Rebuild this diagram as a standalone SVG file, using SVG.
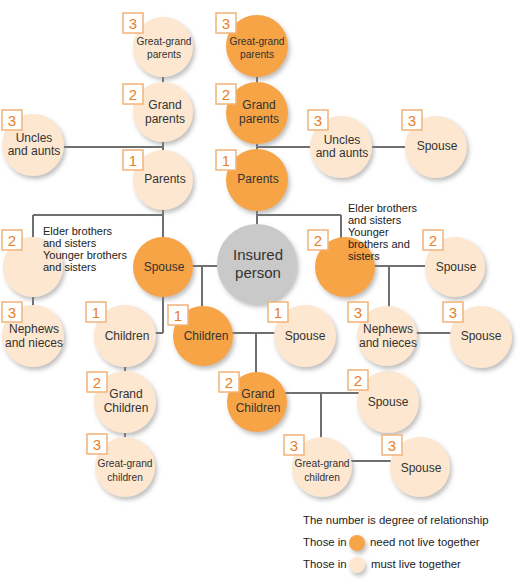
<svg xmlns="http://www.w3.org/2000/svg" width="518" height="587" viewBox="0 0 518 587">
<defs>
<filter id="sh" x="-30%" y="-30%" width="170%" height="170%">
<feDropShadow dx="2" dy="3" stdDeviation="2" flood-color="#8a8a8a" flood-opacity="0.55"/>
</filter>
</defs>
<style>
.o{fill:#F6A445;filter:url(#sh)}
.l{fill:#FDE7D0;filter:url(#sh)}
.g{fill:#C9C9C9;filter:url(#sh)}
.b{fill:#fff;stroke:#F2B37A;stroke-width:1.5}
.d{font-family:"Liberation Sans",Arial,sans-serif;font-size:15px;fill:#E8802A;text-anchor:middle}
.t{font-family:"Liberation Sans",Arial,sans-serif;font-size:12px;fill:#333;text-anchor:middle}
.s{font-family:"Liberation Sans",Arial,sans-serif;font-size:10.2px;fill:#333;text-anchor:middle}
.x{font-family:"Liberation Sans",Arial,sans-serif;font-size:11px;fill:#222}
.lg{font-family:"Liberation Sans",Arial,sans-serif;font-size:11.4px;fill:#222}
.c line{stroke:#6f6f6f;stroke-width:2}
</style>
<rect width="518" height="587" fill="#fff"/>
<g class="c" id="connectors">
<line x1="163" y1="47" x2="163" y2="333"/>
<line x1="32" y1="147" x2="163" y2="147"/>
<line x1="257" y1="46" x2="257" y2="226"/>
<line x1="257" y1="147" x2="436" y2="147"/>
<line x1="33" y1="215" x2="163" y2="215"/>
<line x1="33" y1="215" x2="33" y2="336"/>
<line x1="125" y1="333" x2="163" y2="333"/>
<line x1="125" y1="336" x2="125" y2="467"/>
<line x1="163" y1="266" x2="257" y2="266"/>
<line x1="202" y1="266" x2="202" y2="336"/>
<line x1="203" y1="333" x2="305" y2="333"/>
<line x1="256" y1="333" x2="256" y2="402"/>
<line x1="257" y1="215" x2="341" y2="215"/>
<line x1="341" y1="215" x2="341" y2="267"/>
<line x1="345" y1="266" x2="455" y2="266"/>
<line x1="389" y1="266" x2="389" y2="336"/>
<line x1="387" y1="333" x2="481" y2="333"/>
<line x1="257" y1="393" x2="388" y2="393"/>
<line x1="321" y1="393" x2="321" y2="467"/>
<line x1="322" y1="461" x2="420" y2="461"/>
</g>
<g id="ggp-l"><circle class="l" cx="163" cy="47" r="30"/><rect class="b" x="123" y="13" width="20" height="20"/><text class="d" x="133" y="29">3</text><text class="s" x="164" y="45">Great-grand</text><text class="s" x="164" y="58">parents</text></g>
<g id="gp-l"><circle class="l" cx="163" cy="112" r="30"/><rect class="b" x="123" y="84" width="20" height="20"/><text class="d" x="133" y="100">2</text><text class="t" x="165" y="109">Grand</text><text class="t" x="165" y="123">parents</text></g>
<g id="p-l"><circle class="l" cx="163" cy="180" r="30"/><rect class="b" x="123" y="150" width="20" height="20"/><text class="d" x="133" y="166">1</text><text class="t" x="165" y="183">Parents</text></g>
<g id="ua-l"><circle class="l" cx="33" cy="145" r="31"/><rect class="b" x="2" y="110" width="20" height="20"/><text class="d" x="12" y="126">3</text><text class="t" x="34" y="142">Uncles</text><text class="t" x="34" y="155">and aunts</text></g>
<g id="ggp-r"><circle class="o" cx="257" cy="46" r="31"/><rect class="b" x="216" y="13" width="20" height="20"/><text class="d" x="226" y="29">3</text><text class="s" x="257" y="45">Great-grand</text><text class="s" x="257" y="58">parents</text></g>
<g id="gp-r"><circle class="o" cx="257" cy="113" r="31"/><rect class="b" x="216" y="84" width="20" height="20"/><text class="d" x="226" y="100">2</text><text class="t" x="259" y="109">Grand</text><text class="t" x="259" y="123">parents</text></g>
<g id="p-r"><circle class="o" cx="257" cy="180" r="31"/><rect class="b" x="216" y="150" width="20" height="20"/><text class="d" x="226" y="166">1</text><text class="t" x="258" y="183">Parents</text></g>
<g id="ua-r"><circle class="l" cx="341" cy="147" r="31"/><rect class="b" x="308" y="110" width="20" height="20"/><text class="d" x="318" y="126">3</text><text class="t" x="342" y="144">Uncles</text><text class="t" x="342" y="157">and aunts</text></g>
<g id="ua-spouse"><circle class="l" cx="436" cy="147" r="31"/><rect class="b" x="402" y="110" width="20" height="20"/><text class="d" x="412" y="126">3</text><text class="t" x="437" y="150">Spouse</text></g>
<g id="insured"><circle class="g" cx="257" cy="264" r="40"/><text class="t" style="font-size:15px" x="258" y="260">Insured</text><text class="t" style="font-size:15px" x="258" y="278">person</text></g>
<g id="spouse"><circle class="o" cx="163" cy="267" r="30"/><text class="t" x="164" y="271">Spouse</text></g>
<g id="sib-l"><circle class="l" cx="33" cy="267" r="30"/><rect class="b" x="2" y="230" width="20" height="20"/><text class="d" x="12" y="246">2</text><text class="x" x="43" y="235">Elder brothers</text><text class="x" x="43" y="247">and sisters</text><text class="x" x="43" y="259">Younger brothers</text><text class="x" x="43" y="271">and sisters</text></g>
<g id="nep-l"><circle class="l" cx="33" cy="336" r="31"/><rect class="b" x="2" y="302" width="20" height="20"/><text class="d" x="12" y="318">3</text><text class="t" x="34" y="333">Nephews</text><text class="t" x="34" y="347">and nieces</text></g>
<g id="ch-l"><circle class="l" cx="125" cy="336" r="31"/><rect class="b" x="86" y="302" width="20" height="20"/><text class="d" x="96" y="318">1</text><text class="t" x="127" y="340">Children</text></g>
<g id="gc-l"><circle class="l" cx="125" cy="402" r="31"/><rect class="b" x="87" y="372" width="20" height="20"/><text class="d" x="97" y="388">2</text><text class="t" x="126" y="398">Grand</text><text class="t" x="126" y="412">Children</text></g>
<g id="ggc-l"><circle class="l" cx="125" cy="467" r="30"/><rect class="b" x="87" y="434" width="20" height="20"/><text class="d" x="97" y="450">3</text><text class="s" x="125" y="467">Great-grand</text><text class="s" x="125" y="481">children</text></g>
<g id="ch-o"><circle class="o" cx="203" cy="336" r="30"/><rect class="b" x="168" y="305" width="20" height="20"/><text class="d" x="178" y="321">1</text><text class="t" x="206" y="340">Children</text></g>
<g id="ch-spouse"><circle class="l" cx="305" cy="336" r="31"/><rect class="b" x="268" y="302" width="20" height="20"/><text class="d" x="278" y="318">1</text><text class="t" x="305" y="340">Spouse</text></g>
<g id="gc-o"><circle class="o" cx="257" cy="402" r="30"/><rect class="b" x="219" y="372" width="20" height="20"/><text class="d" x="229" y="388">2</text><text class="t" x="258" y="398">Grand</text><text class="t" x="258" y="412">Children</text></g>
<g id="gc-spouse"><circle class="l" cx="388" cy="402" r="31"/><rect class="b" x="348" y="370" width="20" height="20"/><text class="d" x="358" y="386">2</text><text class="t" x="388" y="406">Spouse</text></g>
<g id="ggc-r"><circle class="l" cx="322" cy="467" r="30"/><rect class="b" x="284" y="435" width="20" height="20"/><text class="d" x="294" y="451">3</text><text class="s" x="322" y="467">Great-grand</text><text class="s" x="322" y="481">children</text></g>
<g id="ggc-spouse"><circle class="l" cx="420" cy="467" r="30"/><rect class="b" x="382" y="435" width="20" height="20"/><text class="d" x="392" y="451">3</text><text class="t" x="421" y="472">Spouse</text></g>
<g id="sib-r"><circle class="o" cx="345" cy="267" r="30"/><rect class="b" x="308" y="230" width="20" height="20"/><text class="d" x="318" y="246">2</text><text class="x" x="348" y="212">Elder brothers</text><text class="x" x="348" y="224">and sisters</text><text class="x" x="348" y="236">Younger</text><text class="x" x="348" y="248">brothers and</text><text class="x" x="348" y="260">sisters</text></g>
<g id="sib-spouse"><circle class="l" cx="455" cy="267" r="30"/><rect class="b" x="423" y="230" width="20" height="20"/><text class="d" x="433" y="246">2</text><text class="t" x="456" y="271">Spouse</text></g>
<g id="nep-r"><circle class="l" cx="387" cy="336" r="30"/><rect class="b" x="348" y="302" width="20" height="20"/><text class="d" x="358" y="318">3</text><text class="t" x="388" y="333">Nephews</text><text class="t" x="388" y="347">and nieces</text></g>
<g id="nep-spouse"><circle class="l" cx="481" cy="337" r="31"/><rect class="b" x="443" y="302" width="20" height="20"/><text class="d" x="453" y="318">3</text><text class="t" x="481" y="340">Spouse</text></g>
<g id="legend">
<text class="lg" x="303" y="524">The number is degree of relationship</text>
<text class="lg" x="303" y="546">Those in</text>
<circle class="o" cx="357" cy="543" r="8"/>
<text class="lg" x="370" y="546">need not live together</text>
<text class="lg" x="303" y="568">Those in</text>
<circle class="l" cx="357" cy="565" r="8"/>
<text class="lg" x="371" y="568">must live together</text>
</g>
</svg>
